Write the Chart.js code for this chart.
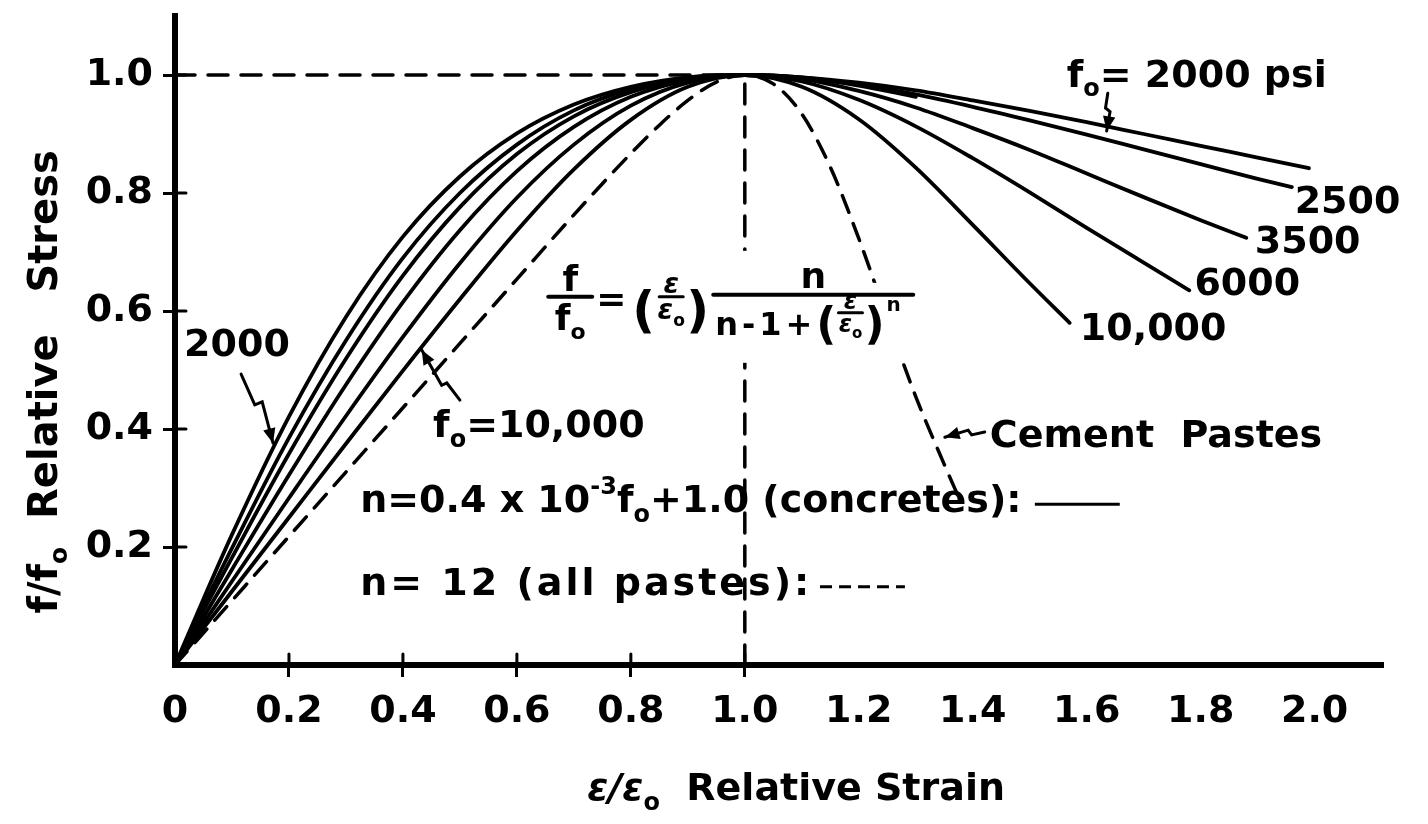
<!DOCTYPE html>
<html lang="en">
<head>
<meta charset="UTF-8">
<title>Relative stress - relative strain</title>
<style>
html, body { margin:0; padding:0; background:#fff; }
#wrap { width:1428px; height:824px; }
</style>
</head>
<body>
<div id="wrap"><canvas id="chart" width="1428" height="824"></canvas></div>

<script src="https://cdn.jsdelivr.net/npm/chart.js"></script>
<script>
// ε/εo grid shared by the concrete curves
const strain = [0, 0.05, 0.1, 0.2, 0.3, 0.4, 0.5, 0.6, 0.7, 0.8, 0.9, 1.0, 1.1, 1.2, 1.3, 1.4, 1.5, 1.6, 1.7, 1.8, 1.9, 2.0];

// f/fo (last value sits at the curve's end strain)
const stress2000  = [0, 0.112, 0.221, 0.421, 0.590, 0.726, 0.828, 0.901, 0.950, 0.980, 0.996, 1.0, 0.996, 0.987, 0.974, 0.957, 0.939, 0.920, 0.900, 0.880, 0.860, 0.842];
const stress2500  = [0, 0.100, 0.198, 0.385, 0.550, 0.690, 0.800, 0.882, 0.940, 0.976, 0.995, 1.0, 0.996, 0.984, 0.967, 0.946, 0.923, 0.899, 0.874, 0.849, 0.824, 0.810];
const stress3000  = [0, 0.092, 0.182, 0.358, 0.519, 0.660, 0.776, 0.866, 0.930, 0.971, 0.993, 1.0, 0.995, 0.982, 0.963];
const stress3500  = [0, 0.081, 0.162, 0.322, 0.475, 0.615, 0.737, 0.837, 0.912, 0.963, 0.991, 1.0, 0.993, 0.973, 0.945, 0.910, 0.873, 0.833, 0.793, 0.754, 0.724];
const stress6000  = [0, 0.071, 0.142, 0.283, 0.422, 0.556, 0.681, 0.792, 0.882, 0.948, 0.987, 1.0, 0.989, 0.958, 0.913, 0.859, 0.801, 0.741, 0.682, 0.635];
const stress10000 = [0, 0.0625, 0.125, 0.250, 0.375, 0.499, 0.620, 0.736, 0.840, 0.924, 0.980, 1.0, 0.980, 0.925, 0.843, 0.746, 0.647, 0.580];
const endStrain   = [1.99, 1.96, 1.3, 1.88, 1.78, 1.57];

// cement pastes, n = 12
const pasteStrain = [0, 0.1, 0.2, 0.3, 0.4, 0.5, 0.6, 0.7, 0.8, 0.85, 0.9, 0.95, 1.0, 1.05, 1.1, 1.15, 1.2, 1.25, 1.3, 1.35, 1.375];
const pasteStress = [0, 0.109, 0.218, 0.327, 0.436, 0.545, 0.654, 0.763, 0.867, 0.915, 0.957, 0.988, 1.0, 0.985, 0.934, 0.844, 0.723, 0.587, 0.455, 0.340, 0.285];

// dashed guide lines to the peak
const guideStrainH = [0, 1.0], guideStressH = [1.0, 1.0];
const guideStrainV = [1.0, 1.0], guideStressV = [0, 1.0];

// axis ticks
const xTicks = [0, 0.2, 0.4, 0.6, 0.8, 1.0, 1.2, 1.4, 1.6, 1.8, 2.0];
const xTickLabels = ['0', '0.2', '0.4', '0.6', '0.8', '1.0', '1.2', '1.4', '1.6', '1.8', '2.0'];
const yTicks = [0.2, 0.4, 0.6, 0.8, 1.0];
const yTickLabels = ['0.2', '0.4', '0.6', '0.8', '1.0'];

const FONT = "'DejaVu Sans', sans-serif";

function pts(xs, ys, tip) {
  return ys.map((v, i) => ({ x: (tip != null && i === ys.length - 1) ? tip : xs[i], y: v }));
}

const curves = [stress2000, stress2500, stress3000, stress3500, stress6000, stress10000];
const datasets = [
  { data: pts(guideStrainH, guideStressH), borderDash: [20, 13], borderWidth: 3.5 },
  { data: pts(guideStrainV, guideStressV), borderDash: [20, 13], borderWidth: 3.5 },
  { data: pts(pasteStrain, pasteStress), borderDash: [18, 12], borderWidth: 3.5, cubicInterpolationMode: 'monotone' },
];
curves.forEach((c, i) => datasets.push({ data: pts(strain, c, endStrain[i]), borderWidth: 3.8, cubicInterpolationMode: 'monotone' }));

// text on the plot, placed in data units
const notes = [
  { at: [1.565, 0.980], parts: [['f'], ['o', 'sub'], ['= 2000 psi']] },
  { at: [1.965, 0.766], parts: [['2500']] },
  { at: [1.895, 0.698], parts: [['3500']] },
  { at: [1.789, 0.627], parts: [['6000']] },
  { at: [1.588, 0.551], parts: [['10,000']] },
  { at: [0.016, 0.524], parts: [['2000']] },
  { at: [0.453, 0.386], parts: [['f'], ['o', 'sub'], ['=10,000']] },
  { at: [1.430, 0.369], parts: [['Cement  Pastes']] },
  { at: [0.325, 0.259], parts: [['n=0.4 x 10'], ['-3', 'sup'], ['f'], ['o', 'sub'], ['+1.0 (concretes):']], key: [], keyAt: [1.509, 1.658] },
  { at: [0.325, 0.119], parts: [['n= 12 (all pastes):']], spacing: 3, key: [12, 7], keyAt: [1.132, 1.281] },
];
const arrows = [
  [[0.116, 0.493], [0.140, 0.441], [0.153, 0.446], [0.172, 0.376]],
  [[0.500, 0.449], [0.477, 0.478], [0.468, 0.474], [0.433, 0.534]],
  [[1.637, 0.969], [1.633, 0.944], [1.641, 0.938], [1.635, 0.905]],
  [[1.421, 0.395], [1.398, 0.390], [1.392, 0.398], [1.351, 0.386]],
];
const formulaAt = [0.655, 0.624];

function setFont(ctx, size, italic) {
  ctx.font = (italic ? 'italic ' : '') + 'bold ' + size + 'px ' + FONT;
}
function runWidth(ctx, parts, size) {
  let w = 0;
  parts.forEach(([s, k, it]) => { setFont(ctx, k ? Math.round(size * 0.62) : size, it); w += ctx.measureText(s).width; });
  return w;
}
function drawRun(ctx, x, y, parts, size) {
  let cx = x;
  parts.forEach(([s, k, it]) => {
    setFont(ctx, k ? Math.round(size * 0.62) : size, it);
    const dy = k === 'sub' ? size * 0.25 : (k === 'sup' ? -size * 0.48 : 0);
    ctx.fillText(s, cx, y + dy);
    cx += ctx.measureText(s).width;
  });
  return cx;
}
function seg(ctx, x1, y1, x2, y2) {
  ctx.beginPath(); ctx.moveTo(x1, y1); ctx.lineTo(x2, y2); ctx.stroke();
}
function drawArrow(ctx, p, head) {
  ctx.beginPath();
  ctx.moveTo(p[0][0], p[0][1]);
  for (let i = 1; i < p.length; i++) ctx.lineTo(p[i][0], p[i][1]);
  ctx.stroke();
  const [x1, y1] = p[p.length - 2], [x2, y2] = p[p.length - 1];
  const a = Math.atan2(y2 - y1, x2 - x1);
  ctx.beginPath();
  ctx.moveTo(x2, y2);
  ctx.lineTo(x2 - head * Math.cos(a - 0.4), y2 - head * Math.sin(a - 0.4));
  ctx.lineTo(x2 - head * Math.cos(a + 0.4), y2 - head * Math.sin(a + 0.4));
  ctx.closePath();
  ctx.fill();
}
function smallFrac(ctx, cx, by, size) {
  // ε over εo, centred on cx, bar at by
  setFont(ctx, size, true);
  ctx.textAlign = 'center';
  ctx.fillText('ε', cx, by - 4);
  ctx.textAlign = 'left';
  const w = runWidth(ctx, [['ε', '', true], ['o', 'sub']], size);
  drawRun(ctx, cx - w / 2, by + size * 0.8, [['ε', '', true], ['o', 'sub']], size);
  ctx.lineWidth = 3;
  seg(ctx, cx - 12, by, cx + 12, by);
}
function drawFormula(ctx, ax, ay) {
  // the dashed lines break where the equation sits
  ctx.fillStyle = '#fff';
  ctx.fillRect(ax + 158, ay - 46, 102, 112);
  ctx.fillRect(ax + 260, ay - 14, 113, 80);
  ctx.fillStyle = '#000';

  ctx.lineWidth = 4;
  // f / fo
  seg(ctx, ax, ay, ax + 44, ay);
  setFont(ctx, 36);
  ctx.textAlign = 'center';
  ctx.fillText('f', ax + 22, ay - 6);
  ctx.textAlign = 'left';
  const w = runWidth(ctx, [['f'], ['o', 'sub']], 36);
  drawRun(ctx, ax + 22 - w / 2, ay + 33, [['f'], ['o', 'sub']], 36);
  setFont(ctx, 36);
  ctx.fillText('=', ax + 48, ay + 14);
  // (ε/εo)
  setFont(ctx, 50);
  ctx.fillText('(', ax + 84, ay + 30);
  smallFrac(ctx, ax + 123, ay, 28);
  setFont(ctx, 50);
  ctx.fillText(')', ax + 138, ay + 30);
  // n / (n-1+(ε/εo)^n)
  ctx.lineWidth = 4;
  seg(ctx, ax + 165, ay - 2, ax + 365, ay - 2);
  setFont(ctx, 36);
  ctx.textAlign = 'center';
  ctx.fillText('n', ax + 265, ay - 9);
  ctx.textAlign = 'left';
  ctx.letterSpacing = '4px';
  let cx = drawRun(ctx, ax + 167, ay + 38, [['n-1+']], 32);
  ctx.letterSpacing = '0px';
  setFont(ctx, 44);
  ctx.fillText('(', cx, ay + 42);
  cx += ctx.measureText('(').width;
  smallFrac(ctx, cx + 14, ay + 16, 24);
  setFont(ctx, 44);
  ctx.fillText(')', cx + 28, ay + 42);
  cx += 28 + ctx.measureText(')').width;
  setFont(ctx, 20);
  ctx.fillText('n', cx + 2, ay + 14);
}

const paper = {
  id: 'paper',
  beforeDraw(chart) {
    const c = chart.ctx;
    c.save();
    c.fillStyle = '#fff';
    c.fillRect(0, 0, chart.width, chart.height);
    c.restore();
  },
  afterDraw(chart) {
    const ctx = chart.ctx, x = chart.scales.x, y = chart.scales.y;
    const P = (a, b) => [x.getPixelForValue(a), y.getPixelForValue(b)];
    ctx.save();
    ctx.fillStyle = '#000';
    ctx.strokeStyle = '#000';
    ctx.textAlign = 'left';
    ctx.textBaseline = 'alphabetic';
    ctx.lineCap = 'round';

    // tick marks cross the axes
    ctx.lineWidth = 3;
    x.ticks.forEach(t => {
      if (t.value > 0 && t.value <= 1.0001) { const p = x.getPixelForValue(t.value); seg(ctx, p, y.bottom, p, y.bottom - 11); }
    });
    y.ticks.forEach(t => { const p = y.getPixelForValue(t.value); seg(ctx, x.left, p, x.left + 11, p); });

    // equation
    const [fx, fy] = P(formulaAt[0], formulaAt[1]);
    drawFormula(ctx, fx, fy);

    // notes and legend keys
    notes.forEach(n => {
      const [px, py] = P(n.at[0], n.at[1]);
      ctx.letterSpacing = (n.spacing || 0) + 'px';
      drawRun(ctx, px, py, n.parts, 38);
      ctx.letterSpacing = '0px';
      if (n.key) {
        ctx.lineWidth = 3;
        ctx.setLineDash(n.key);
        ctx.lineCap = 'butt';
        seg(ctx, x.getPixelForValue(n.keyAt[0]), py - 8, x.getPixelForValue(n.keyAt[1]), py - 8);
        ctx.setLineDash([]);
        ctx.lineCap = 'round';
      }
    });

    // arrows
    ctx.lineWidth = 3;
    arrows.forEach(a => drawArrow(ctx, a.map(q => P(q[0], q[1])), 16));

    // axis titles
    const xt = [['ε/ε', '', true], ['o', 'sub'], ['  Relative Strain']];
    const xw = runWidth(ctx, xt, 38);
    drawRun(ctx, x.getPixelForValue(1.09) - xw / 2, x.bottom - 24, xt, 38);

    const yt = [['f/f'], ['o', 'sub'], ['  Relative   Stress']];
    const yw = runWidth(ctx, yt, 40);
    ctx.translate(57, y.getPixelForValue(0.48));
    ctx.rotate(-Math.PI / 2);
    drawRun(ctx, -yw / 2, 0, yt, 40);
    ctx.restore();
  }
};

new Chart(document.getElementById('chart').getContext('2d'), {
  type: 'line',
  data: { datasets },
  options: {
    responsive: false,
    animation: false,
    devicePixelRatio: 1,
    layout: { padding: { top: 16, right: 45, left: 0, bottom: 0 } },
    plugins: { legend: { display: false }, tooltip: { enabled: false } },
    elements: {
      point: { radius: 0 },
      line: { borderColor: '#000', borderWidth: 3, fill: false, tension: 0, borderCapStyle: 'round' }
    },
    scales: {
      x: {
        type: 'linear', min: 0, max: 2.12,
        afterFit: s => { s.height = 159; s.paddingLeft = 0; s.paddingRight = 0; },
        afterBuildTicks: s => { s.ticks = xTicks.map(v => ({ value: v })); },
        border: { display: true, color: '#000', width: 6 },
        grid: {
          drawOnChartArea: false, drawTicks: true, tickLength: 12, tickWidth: 3,
          tickColor: c => (c.tick && c.tick.value > 0 && c.tick.value <= 1.0001) ? '#000' : 'rgba(0,0,0,0)'
        },
        ticks: {
          color: '#000', padding: 12, maxRotation: 0, autoSkip: false,
          font: { family: FONT, size: 38, weight: 'bold' },
          callback: (v, i) => xTickLabels[i]
        }
      },
      y: {
        type: 'linear', min: 0, max: 1.1,
        afterFit: s => { s.width = 175; s.paddingTop = 0; s.paddingBottom = 0; },
        afterBuildTicks: s => { s.ticks = yTicks.map(v => ({ value: v })); },
        border: { display: true, color: '#000', width: 6 },
        grid: { drawOnChartArea: false, drawTicks: true, tickLength: 12, tickWidth: 3, tickColor: '#000' },
        ticks: {
          color: '#000', padding: 10,
          font: { family: FONT, size: 38, weight: 'bold' },
          callback: (v, i) => yTickLabels[i]
        }
      }
    }
  },
  plugins: [paper]
});
</script>
</body>
</html>
